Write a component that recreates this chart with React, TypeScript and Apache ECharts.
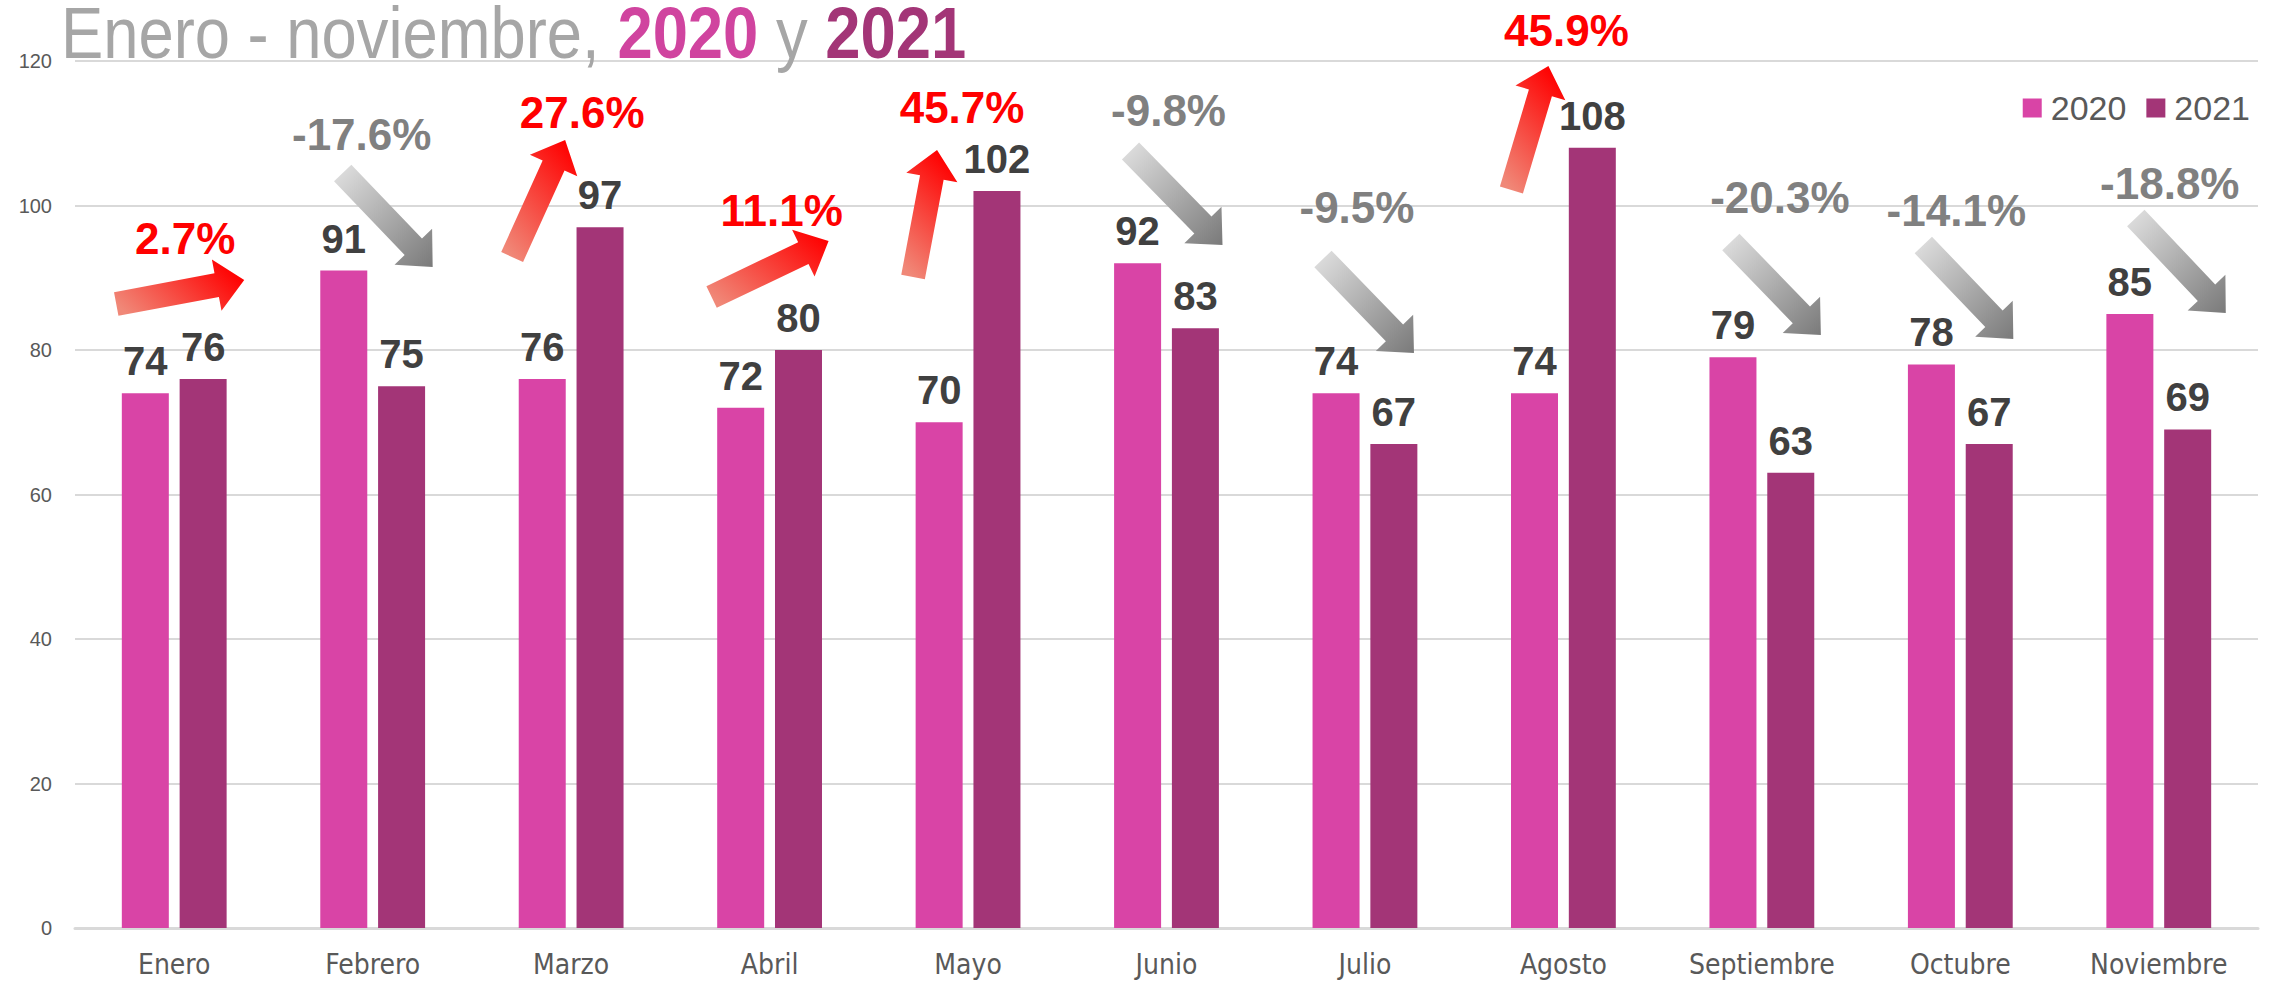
import React, { useEffect, useRef } from "react";
import * as echarts from "echarts";

const months = ["Enero", "Febrero", "Marzo", "Abril", "Mayo", "Junio", "Julio", "Agosto", "Septiembre", "Octubre", "Noviembre"];
const values2020 = [74, 91, 76, 72, 70, 92, 74, 74, 79, 78, 85];
const values2021 = [76, 75, 97, 80, 102, 83, 67, 108, 63, 67, 69];
const changeLabels = ["2.7%", "-17.6%", "27.6%", "11.1%", "45.7%", "-9.8%", "-9.5%", "45.9%", "-20.3%", "-14.1%", "-18.8%"];
const seriesNames = ["2020", "2021"];

// annotation layout per month: [tailDx, tailY, tipDx, tipY, labelDx, labelY] (dx from category centre, y in px)
const arrowLayout = [
  [-58, 304, 70, 280, 11, 238],
  [-30, 173, 60, 267, -11, 134],
  [-59, 257, -6, 140, 11, 112],
  [-58, 297, 59, 241, 12, 210],
  [-55, 277, -31, 150, -6, 107],
  [-36, 151, 56, 245, 2, 110],
  [-42, 259, 49, 353, -8, 207],
  [-52, 190, -15, 66, 3, 30],
  [-31, 242, 59, 335, 18, 197],
  [-37, 245, 53, 339, -4, 210],
  [-23, 218, 67, 313, 11, 183],
];

const COND = "'DejaVu Sans Condensed', 'Liberation Sans', sans-serif";
const SANS = "'Liberation Sans', Arial, sans-serif";
const PINK = "#D944A6";
const PLUM = "#A33577";

function arrowPolygon(tx: number, ty: number, px: number, py: number, up: boolean) {
  const shaft = 24, headW = 52, headL = 28;
  const len = Math.hypot(px - tx, py - ty);
  const dx = (px - tx) / len, dy = (py - ty) / len;
  const nx = -dy, ny = dx;
  const bx = px - dx * headL, by = py - dy * headL;
  const pts: number[][] = [
    [tx + nx * shaft / 2, ty + ny * shaft / 2],
    [bx + nx * shaft / 2, by + ny * shaft / 2],
    [bx + nx * headW / 2, by + ny * headW / 2],
    [px, py],
    [bx - nx * headW / 2, by - ny * headW / 2],
    [bx - nx * shaft / 2, by - ny * shaft / 2],
    [tx - nx * shaft / 2, ty - ny * shaft / 2],
  ];
  const xs = pts.map((p) => p[0]), ys = pts.map((p) => p[1]);
  const minX = Math.min(...xs), maxX = Math.max(...xs), minY = Math.min(...ys), maxY = Math.max(...ys);
  const w = maxX - minX, h = maxY - minY;
  const fill = {
    type: "linear",
    x: (tx - minX) / w,
    y: (ty - minY) / h,
    x2: (px - minX) / w,
    y2: (py - minY) / h,
    colorStops: up
      ? [{ offset: 0, color: "#F08878" }, { offset: 1, color: "#FF0000" }]
      : [{ offset: 0, color: "#DADADA" }, { offset: 1, color: "#7A7A7A" }],
  };
  return { type: "polygon", shape: { points: pts }, style: { fill }, z: 10 };
}

export default function App() {
  const ref = useRef<HTMLDivElement>(null);
  useEffect(() => {
    if (!ref.current) return;
    const chart = echarts.init(ref.current, undefined, { renderer: "svg" });
    const barLabel = { show: true, position: "top", distance: 12, fontSize: 40, fontWeight: "bold", color: "#404040", fontFamily: SANS };
    chart.setOption({
      animation: false,
      backgroundColor: "#FFFFFF",
      grid: { left: 75, right: 22, top: 61, bottom: 55, containLabel: false },
      legend: {
        data: seriesNames,
        right: 25,
        top: 86,
        icon: "rect",
        itemWidth: 19,
        itemHeight: 19,
        itemGap: 20,
        textStyle: { fontSize: 34, color: "#595959", fontFamily: SANS, padding: [0, 0, 0, 4] },
      },
      xAxis: {
        type: "category",
        data: months,
        axisTick: { show: false },
        axisLine: { show: true, lineStyle: { color: "#D9D9D9", width: 3 } },
        axisLabel: { interval: 0, fontSize: 28, color: "#595959", fontFamily: COND, margin: 22 },
      },
      yAxis: {
        type: "value",
        min: 0,
        max: 120,
        interval: 20,
        axisLine: { show: false },
        axisTick: { show: false },
        axisLabel: { fontSize: 20, color: "#595959", fontFamily: SANS, margin: 23 },
        splitLine: { lineStyle: { color: "#D9D9D9", width: 2 } },
      },
      series: [
        { name: seriesNames[0], type: "bar", data: values2020, barWidth: 47, barGap: "23%", itemStyle: { color: PINK }, label: barLabel },
        { name: seriesNames[1], type: "bar", data: values2021, barWidth: 47, barGap: "23%", itemStyle: { color: PLUM }, label: barLabel },
      ],
    });

    const elements: any[] = [];
    elements.push({
      type: "text",
      x: 61,
      y: 33,
      scaleX: 0.88,
      z: 20,
      style: {
        text: "{a|Enero - noviembre, }{b|2020}{a| y }{c|2021}",
        verticalAlign: "middle",
        rich: {
          a: { fontSize: 72, fontFamily: SANS, fill: "#A6A6A6" },
          b: { fontSize: 72, fontFamily: SANS, fontWeight: "bold", fill: "#D0449F" },
          c: { fontSize: 72, fontFamily: SANS, fontWeight: "bold", fill: PLUM },
        },
      },
    });
    months.forEach((m, i) => {
      const cx = chart.convertToPixel({ xAxisIndex: 0 }, m) as number;
      const [tdx, ty, pdx, py, ldx, ly] = arrowLayout[i];
      const up = !changeLabels[i].startsWith("-");
      elements.push(arrowPolygon(cx + tdx, ty, cx + pdx, py, up));
      elements.push({
        type: "text",
        x: cx + ldx,
        y: ly,
        z: 11,
        style: {
          text: changeLabels[i],
          fontSize: 44,
          fontWeight: "bold",
          fontFamily: SANS,
          fill: up ? "#FF0000" : "#808080",
          align: "center",
          verticalAlign: "middle",
        },
      });
    });
    chart.setOption({ graphic: elements });

    return () => chart.dispose();
  }, []);
  return <div ref={ref} style={{ position: "fixed", left: 0, top: 0, width: 2280, height: 983, background: "#fff" }} />;
}
